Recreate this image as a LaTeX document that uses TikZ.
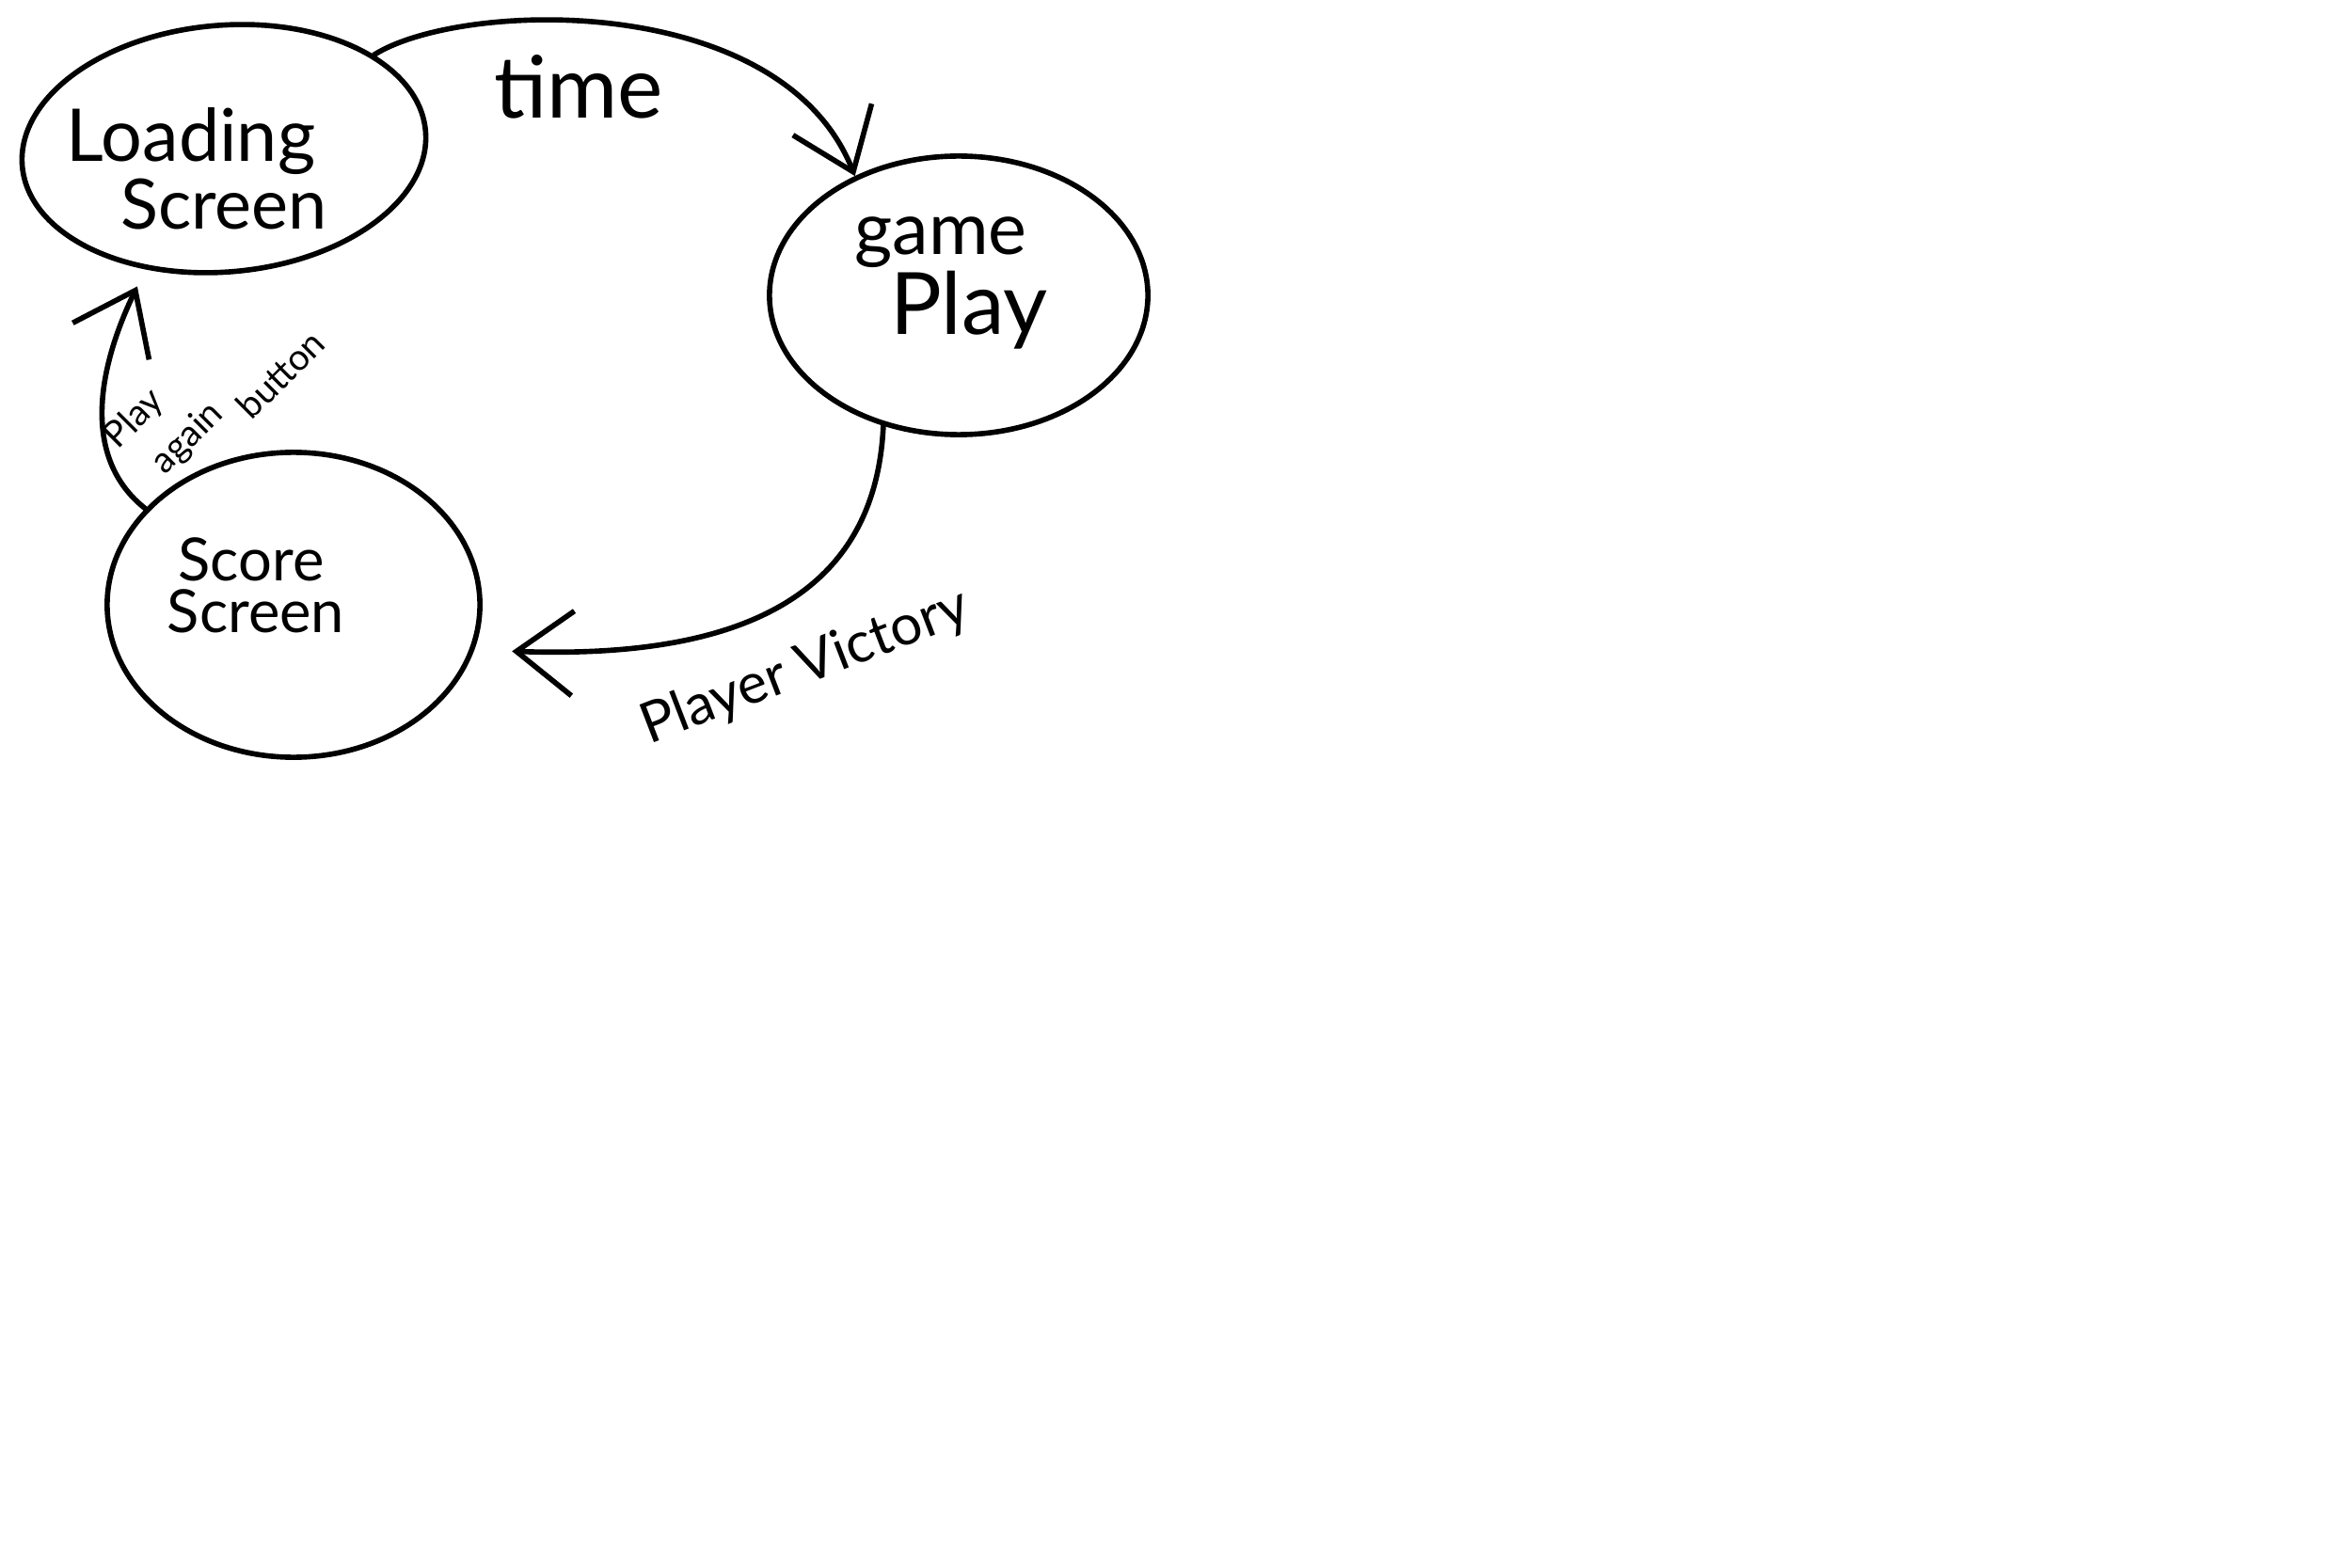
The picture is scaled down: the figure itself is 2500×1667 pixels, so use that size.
\documentclass[tikz,border=0pt]{standalone}
\usepackage{fontspec}
\setmainfont{Lato}
\usetikzlibrary{shapes.geometric,arrows.meta}
\begin{document}
\begin{tikzpicture}[x=0.01cm,y=0.01cm,
  line width=1.6pt, line cap=round, line join=round,
  state/.style={draw, ellipse, inner sep=0pt},
  lbl/.style={inner sep=0pt},
  arr/.style={-{Straight Barb[length=6mm,width=9mm,line width=1.6pt]}},
]
\useasboundingbox (0,0) rectangle (2500,-1667);
\fill[white] (0,0) rectangle (2500,-1667);

% states
\node[state, minimum width=4.3cm, minimum height=2.62cm, rotate=5] (LS) at (238,-158) {};
\node[state, minimum width=4.02cm, minimum height=2.96cm] (GP) at (1019,-314) {};
\node[state, minimum width=3.96cm, minimum height=3.24cm] (SS) at (312,-643) {};

% state texts
\node[lbl, font=\fontsize{22}{24}\selectfont] (tLoading) at (203,-150) {Loading};
\node[lbl, font=\fontsize{21}{24}\selectfont] (tScreenA) at (238,-217) {Screen};
\node[lbl, font=\fontsize{22}{24}\selectfont] (tGame) at (1000,-258) {game};
\node[lbl, font=\fontsize{26}{28}\selectfont] (tPlay) at (1030,-330) {Play};
\node[lbl, font=\fontsize{18}{20}\selectfont] (tScore) at (267,-595) {Score};
\node[lbl, font=\fontsize{18}{20}\selectfont] (tScreenB) at (272,-650) {Screen};

% connectors
\draw[arr] (LS.27) .. controls (490,0) and (830,10) .. (GP.131);
\draw[arr, shorten >=4mm] (GP.240) .. controls (930,-650) and (760,-700) .. (SS.-14);
\draw[arr, shorten >=2mm] (SS.147) .. controls (90,-490) and (100,-400) .. (LS.232);

% connector labels
\node[lbl, font=\fontsize{26}{28}\selectfont] (lTime) at (615,-92) {time};
\node[lbl, font=\fontsize{17}{19}\selectfont, rotate=21] (lVictory) at (856,-710) {Player Victory};
\node[lbl, font=\fontsize{11}{13}\selectfont, rotate=45] (lPlay) at (143,-446) {Play};
\node[lbl, font=\fontsize{11}{13}\selectfont, rotate=45] (lAgain) at (200,-466) {again};
\node[lbl, font=\fontsize{11}{13}\selectfont, rotate=45] (lButton) at (298,-398) {button};
\end{tikzpicture}
\end{document}
